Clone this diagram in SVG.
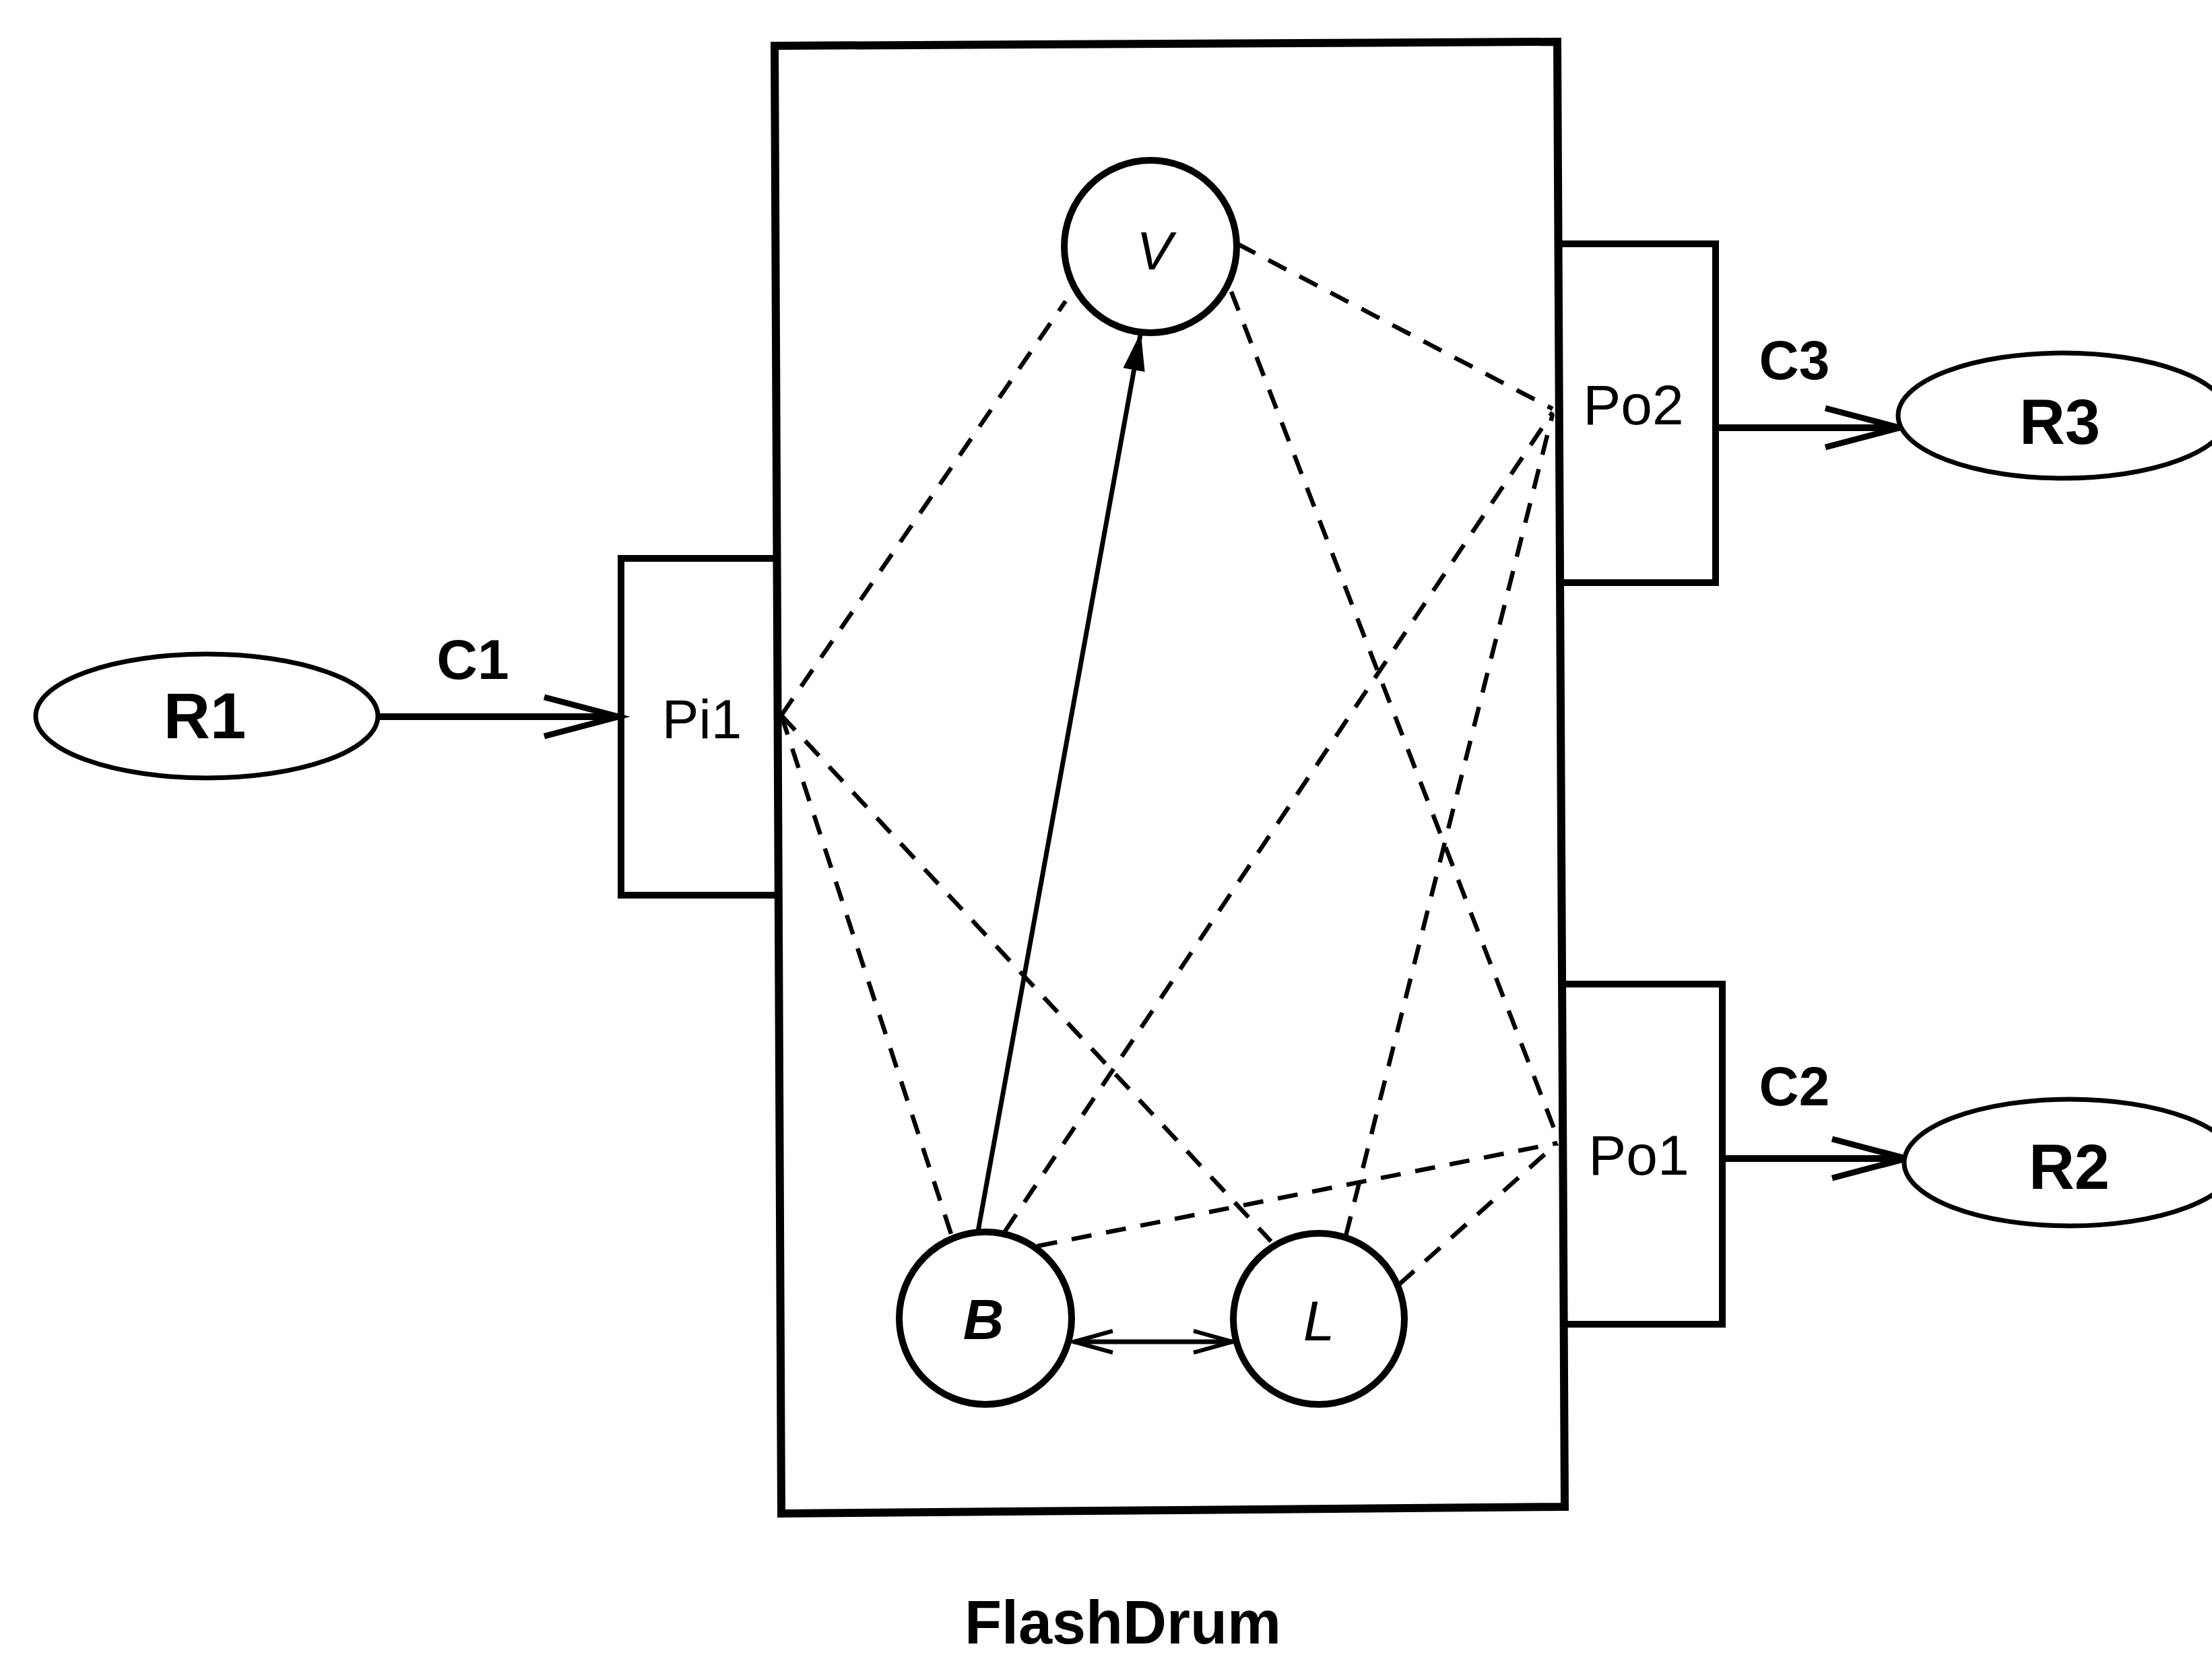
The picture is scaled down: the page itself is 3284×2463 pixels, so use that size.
<svg xmlns="http://www.w3.org/2000/svg" width="3284" height="2463" viewBox="0 0 3284 2463">
<style>
.bg{fill:#fff}
.box{fill:none;stroke:#000;stroke-width:12;stroke-linejoin:miter}
.port{fill:none;stroke:#000;stroke-width:10}
.node{fill:#fff;stroke:#000;stroke-width:10}
.res{fill:#fff;stroke:#000;stroke-width:7}
.conn{fill:none;stroke:#000;stroke-width:10}
.inner{fill:none;stroke:#000;stroke-width:7}
.dash{fill:none;stroke:#000;stroke-width:6.5;stroke-dasharray:30 22}
.lblB{font-family:'Liberation Sans Narrow','Liberation Sans',Arial,sans-serif;font-weight:bold;text-anchor:middle;fill:#000}
.lbl{font-family:'Liberation Sans Narrow','Liberation Sans',Arial,sans-serif;text-anchor:middle;fill:#000}
.it{font-family:'Liberation Sans','DejaVu Sans',sans-serif;font-style:italic;text-anchor:middle;fill:#000}
.title{font-family:'Liberation Sans',Arial,sans-serif;font-weight:bold;text-anchor:middle;fill:#000}
</style>
<defs>
<marker id="openBig" markerUnits="userSpaceOnUse" markerWidth="140" markerHeight="90" viewBox="-125 -45 140 90" refX="0" refY="0" orient="auto" overflow="visible">
<path d="M-110,-29 L0,0 L-110,29" fill="none" stroke="#000" stroke-width="9"/>
</marker>
<marker id="openSmall" markerUnits="userSpaceOnUse" markerWidth="80" markerHeight="50" viewBox="-70 -25 80 50" refX="0" refY="0" orient="auto-start-reverse" overflow="visible">
<path d="M-58,-16 L0,0 L-58,16" fill="none" stroke="#000" stroke-width="6"/>
</marker>
<marker id="filled" markerUnits="userSpaceOnUse" markerWidth="70" markerHeight="40" viewBox="-60 -20 70 40" refX="0" refY="0" orient="auto" overflow="visible">
<path d="M-52,-15 L0,0 L-52,15 Z" fill="#000" stroke="#000" stroke-width="2"/>
</marker>
</defs>
<rect class="bg" x="0" y="0" width="3284" height="2463"/>

<g id="FlashDrum">
<polygon class="box" points="1150,68 2312,62 2323,2237 1160,2247"/>
<text class="title" x="1667" y="2440" font-size="90">FlashDrum</text>
</g>

<g id="connectors">
<line class="conn" x1="562" y1="1064" x2="918" y2="1064" marker-end="url(#openBig)"/>
<line class="conn" x1="2547" y1="635" x2="2820" y2="635" marker-end="url(#openBig)"/>
<line class="conn" x1="2557" y1="1720" x2="2830" y2="1720" marker-end="url(#openBig)"/>
<line class="inner" x1="1452" y1="1828" x2="1693" y2="497" marker-end="url(#filled)"/>
<line class="inner" x1="1594" y1="1992" x2="1830" y2="1992" marker-start="url(#openSmall)" marker-end="url(#openSmall)"/>
<line class="dash" x1="1160" y1="1062" x2="1582" y2="447"/>
<line class="dash" x1="1160" y1="1062" x2="1413" y2="1835"/>
<line class="dash" x1="1160" y1="1062" x2="1887" y2="1843"/>
<line class="dash" x1="1837" y1="362" x2="2305" y2="607"/>
<line class="dash" x1="1828" y1="433" x2="2314" y2="1693"/>
<line class="dash" x1="1492" y1="1828" x2="2305" y2="612"/>
<line class="dash" x1="1540" y1="1850" x2="2312" y2="1697"/>
<line class="dash" x1="1998" y1="1835" x2="2305" y2="615"/>
<line class="dash" x1="2077" y1="1907" x2="2312" y2="1697"/>
<text class="lblB" x="702" y="1008" font-size="84">C1</text>
<text class="lblB" x="2664" y="563" font-size="82">C3</text>
<text class="lblB" x="2664" y="1641" font-size="82">C2</text>
</g>

<g id="Pi1">
<polyline class="port" points="1155,829 922,829 922,1329 1157,1329"/>
<text class="lbl" x="1042" y="1096" font-size="82">Pi1</text>
</g>

<g id="Po2">
<polyline class="port" points="2312,362 2547,362 2547,865 2315,865"/>
<text class="lbl" x="2425" y="630" font-size="84">Po2</text>
</g>

<g id="Po1">
<polyline class="port" points="2318,1461 2557,1461 2557,1966 2321,1966"/>
<text class="lbl" x="2433" y="1744" font-size="84">Po1</text>
</g>

<g id="R1">
<ellipse class="res" cx="307" cy="1063" rx="254" ry="92"/>
<text class="lblB" x="304" y="1096" font-size="96">R1</text>
</g>

<g id="R3">
<ellipse class="res" cx="3063" cy="617" rx="245" ry="93"/>
<text class="lblB" x="3058" y="659" font-size="94">R3</text>
</g>

<g id="R2">
<ellipse class="res" cx="3073" cy="1726" rx="246" ry="94"/>
<text class="lblB" x="3072" y="1765" font-size="94">R2</text>
</g>

<g id="V">
<circle class="node" cx="1708" cy="366" r="128"/>
<text class="it" x="1714" y="400" font-size="80">V</text>
</g>

<g id="B">
<circle class="node" cx="1463" cy="1957" r="128"/>
<text class="it" x="1460" y="1988" font-size="84" font-weight="bold">B</text>
</g>

<g id="L">
<circle class="node" cx="1958" cy="1958" r="127"/>
<text class="it" x="1958" y="1990" font-size="84">L</text>
</g>
</svg>
